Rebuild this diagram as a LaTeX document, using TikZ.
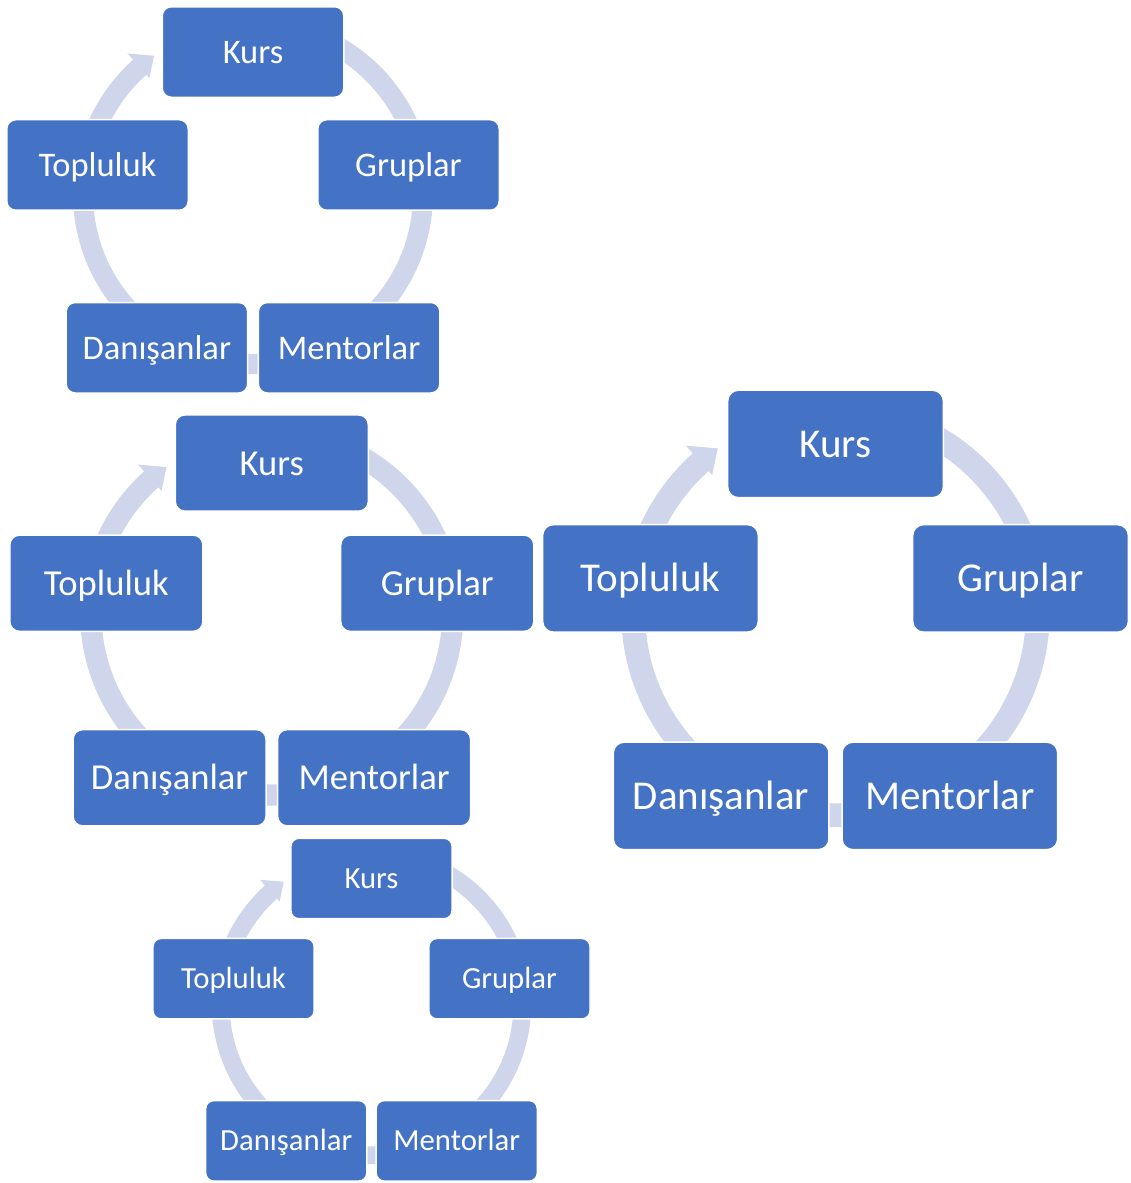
\documentclass[tikz,border=0pt]{standalone}
\usepackage{fontspec}
\setmainfont{Carlito}
\usetikzlibrary{calc}
\definecolor{boxblue}{HTML}{4472C4}
\definecolor{ringblue}{HTML}{CFD5EA}
\tikzset{
  cycbox/.style={fill=boxblue, draw=white, line width=1.5pt, text=white, align=center, inner sep=0pt},
  ringfill/.style={fill=ringblue},
}
% #1 prefix, #2 centre x, #3 centre y (downwards), #4 scale, #5 font size
\newcommand\cycdiag[5]{%
  \pgfmathsetmacro\cR{163.5*#4}%
  \pgfmathsetmacro\rO{180*#4}%
  \pgfmathsetmacro\rI{160*#4}%
  \pgfmathsetmacro\rM{170*#4}%
  \pgfmathsetmacro\hO{188.5*#4}%
  \pgfmathsetmacro\hI{155.5*#4}%
  \pgfmathsetmacro\rOff{21.5*#4}%
  \pgfmathsetmacro\bw{180*#4+1.5}%
  \pgfmathsetmacro\bh{89*#4+1.5}%
  \pgfmathsetmacro\bc{9*#4}%
  \pgfmathsetmacro\tht{0.85*#5}%
  \pgfmathsetmacro\tdp{0.19*#5}%
  \tikzset{curbox/.style={cycbox, rounded corners=\bc pt, minimum width=\bw pt, minimum height=\bh pt, text height=\tht pt, text depth=\tdp pt, font=\fontsize{#5}{#5}\selectfont}}%
  \begin{scope}[shift={(#2,-#3)}]
    \begin{scope}[shift={(0,\rOff)}]
      \fill[ringfill] (75:\rO) arc[start angle=75, end angle=-228.2, radius=\rO]
        -- (131.8:\hO) -- (125.6:\rM) -- (131.8:\hI) -- (131.8:\rI)
        arc[start angle=-228.2, end angle=75, radius=\rI] -- cycle;
    \end{scope}
    \node[curbox] (#1-kurs) at (90:\cR) {Kurs};
    \node[curbox] (#1-gruplar) at (18:\cR) {Gruplar};
    \node[curbox] (#1-mentorlar) at (-54:\cR) {Mentorlar};
    \node[curbox] (#1-danisanlar) at (-126:\cR) {Danışanlar};
    \node[curbox] (#1-topluluk) at (162:\cR) {Topluluk};
  \end{scope}}
\begin{document}
\begin{tikzpicture}[x=1pt,y=1pt]
  \fill[white] (0,0) rectangle (1131,-1183);
  \useasboundingbox (0,0) rectangle (1131,-1183);
  \cycdiag{a}{253}{215.5}{1}{34.5}
  \cycdiag{b}{271.8}{637}{1.064}{36.6}
  \cycdiag{c}{835.5}{638.5}{1.19}{41}
  \cycdiag{d}{371.5}{1023.5}{0.887}{30.7}
\end{tikzpicture}
\end{document}
